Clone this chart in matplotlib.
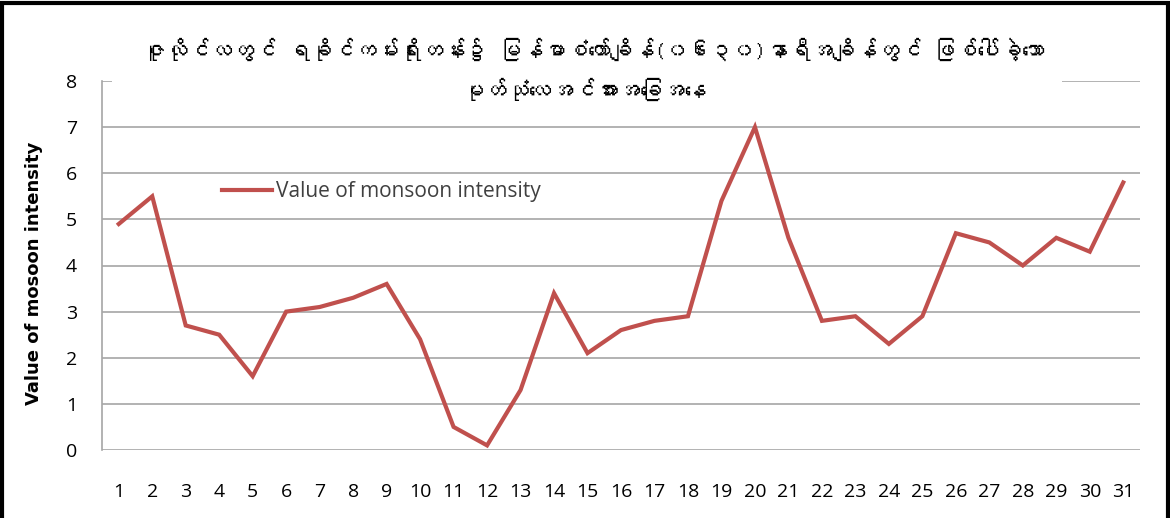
import matplotlib
matplotlib.use("Agg")
import matplotlib.pyplot as plt
from matplotlib import font_manager
from matplotlib.patches import Rectangle

days = list(range(1, 32))
intensity = [4.9, 5.5, 2.7, 2.5, 1.6, 3.0, 3.1, 3.3, 3.6, 2.4, 0.5, 0.1, 1.3, 3.4, 2.1, 2.6,
             2.8, 2.9, 5.4, 7.0, 4.6, 2.8, 2.9, 2.3, 2.9, 4.7, 4.5, 4.0, 4.6, 4.3, 5.8]
y_ticks = [0, 1, 2, 3, 4, 5, 6, 7, 8]
title_line1 = "ဇူလိုင်လတွင် ရခိုင်ကမ်းရိုးတန်း၌ မြန်မာစံတော်ချိန်(၀၆း၃၀)နာရီအချိန်တွင် ဖြစ်ပေါ်ခဲ့သော"
title_line2 = "မုတ်သုံလေအင်အားအခြေအနေ"
series_label = "Value of monsoon intensity"
y_label = "Value of mosoon intensity"

# find a font with Myanmar glyphs if any
mm_family = None
try:
    from fontTools.ttLib import TTFont
    for f in font_manager.fontManager.ttflist:
        try:
            tt = TTFont(f.fname, fontNumber=0, lazy=True)
            cmap = tt.getBestCmap()
            if cmap and 0x1000 in cmap and 0x1039 in cmap:
                mm_family = f.name
                break
        except Exception:
            pass
except Exception:
    pass
title_fam = [mm_family, "DejaVu Sans"] if mm_family else ["DejaVu Sans"]

tick_fam = ["Open Sans", "DejaVu Sans"]

fig = plt.figure(figsize=(11.7, 5.18), dpi=100)
ax = fig.add_axes([102/1170, 1-450/518, (1140-102)/1170, (450-81)/518])

ax.plot(days, intensity, color="#C0504D", lw=3.0, label=series_label, solid_joinstyle="miter")
ax.set_xlim(0.5, 31.5)
ax.set_ylim(0, 8)
ax.set_yticks(y_ticks)
ax.set_xticks(days)
ax.grid(axis="y", color="#A6A6A6", lw=1.2)
ax.set_axisbelow(True)
for s in ["top", "right", "bottom"]:
    ax.spines[s].set_visible(False)
ax.spines["left"].set_color("#A6A6A6")
ax.spines["left"].set_linewidth(1.2)
ax.tick_params(axis="both", length=0, labelsize=14, colors="black")
ax.tick_params(axis="y", pad=18)
ax.tick_params(axis="x", pad=24)
for lab in ax.get_xticklabels() + ax.get_yticklabels():
    lab.set_fontfamily(tick_fam)
ax.set_ylabel(y_label, fontsize=13, fontweight="bold")
ax.yaxis.set_label_coords(-0.057, 0.48)

leg = ax.legend(loc="center left", bbox_to_anchor=((222-102)/1038, (450-192)/369), frameon=False,
                prop={"family": "Open Sans", "size": 15}, handlelength=2.4, handletextpad=0.2,
                borderpad=0, borderaxespad=0)
for t in leg.get_texts():
    t.set_color("#404040")

# white box behind the title, covering the top gridline
fig.patches.append(Rectangle((112/1170, 1-100/518), (1062-112)/1170, 30/518, transform=fig.transFigure,
                             facecolor="white", edgecolor="none", zorder=2))

fig.text(0.507, 0.905, title_line1, ha="center", va="center", fontsize=16, fontweight="bold",
         family=title_fam, zorder=4)
fig.text(0.5, 0.828, title_line2, ha="center", va="center", fontsize=16, fontweight="bold",
         family=title_fam, zorder=4)

fig.patches.append(Rectangle((0.002, -0.05), 0.996, 1.045, transform=fig.transFigure,
                             fill=False, edgecolor="black", lw=3, zorder=5))

fig.savefig("out.png", dpi=100)
